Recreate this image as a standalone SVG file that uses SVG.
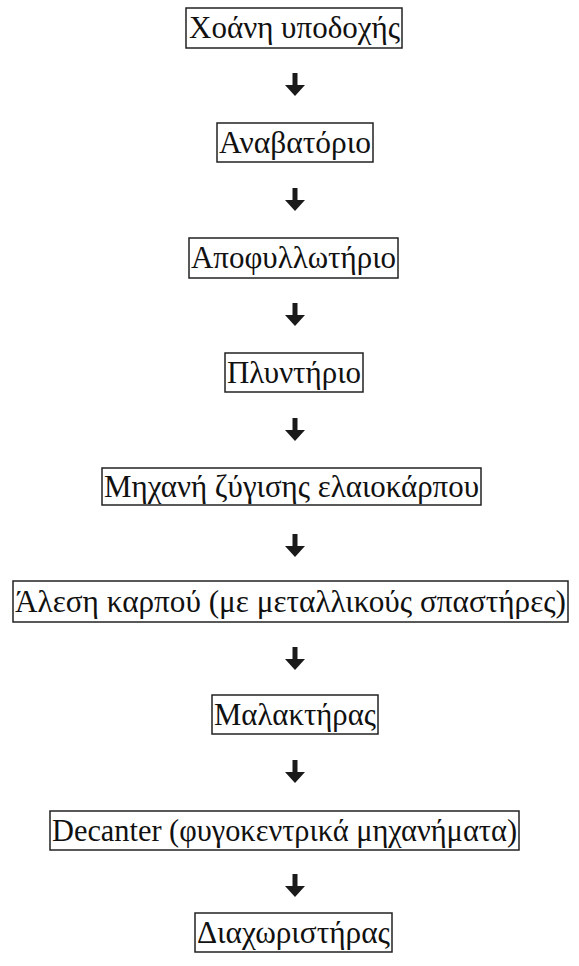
<svg xmlns="http://www.w3.org/2000/svg" width="579" height="966" viewBox="0 0 579 966">
<defs>
<style>
.box{fill:#fff;stroke:#222;stroke-width:1.5}
.t{font-family:"Liberation Serif","DejaVu Serif",serif;font-size:31px;fill:#111}
.arr{fill:#1a1a1a}
</style>
<path id="ar" d="M-2.5,0 H2.5 V12 H10 L0,23 L-10,12 H-2.5 Z"/>
</defs>
<rect width="579" height="966" fill="#fff"/>
<g id="connectors">
<use href="#ar" class="arr" x="295" y="73"/>
<use href="#ar" class="arr" x="295" y="188"/>
<use href="#ar" class="arr" x="295" y="303"/>
<use href="#ar" class="arr" x="295" y="418"/>
<use href="#ar" class="arr" x="295" y="534"/>
<use href="#ar" class="arr" x="295" y="647"/>
<use href="#ar" class="arr" x="295" y="760"/>
<use href="#ar" class="arr" x="295" y="874"/>
</g>
<g id="n1"><rect class="box" x="186" y="8" width="216" height="40"/><text class="t" x="189" y="38" textLength="211" lengthAdjust="spacingAndGlyphs">Χοάνη υποδοχής</text></g>
<g id="n2"><rect class="box" x="217" y="123" width="156" height="39"/><text class="t" x="219" y="153" textLength="152" lengthAdjust="spacingAndGlyphs">Αναβατόριο</text></g>
<g id="n3"><rect class="box" x="189" y="238" width="209" height="40"/><text class="t" x="191" y="268" textLength="205" lengthAdjust="spacingAndGlyphs">Αποφυλλωτήριο</text></g>
<g id="n4"><rect class="box" x="225" y="353" width="138" height="39"/><text class="t" x="227" y="383" textLength="134" lengthAdjust="spacingAndGlyphs">Πλυντήριο</text></g>
<g id="n5"><rect class="box" x="102" y="468" width="379" height="37"/><text class="t" x="104" y="497" textLength="375" lengthAdjust="spacingAndGlyphs">Μηχανή ζύγισης ελαιοκάρπου</text></g>
<g id="n6"><rect class="box" x="13" y="581" width="555" height="41"/><text class="t" x="15" y="612" textLength="551" lengthAdjust="spacingAndGlyphs">Άλεση καρπού (με μεταλλικούς σπαστήρες)</text></g>
<g id="n7"><rect class="box" x="212" y="695" width="166" height="39"/><text class="t" x="214" y="725" textLength="162" lengthAdjust="spacingAndGlyphs">Μαλακτήρας</text></g>
<g id="n8"><rect class="box" x="50" y="811" width="469" height="39"/><text class="t" x="52" y="841" textLength="465" lengthAdjust="spacingAndGlyphs">Decanter (φυγοκεντρικά μηχανήματα)</text></g>
<g id="n9"><rect class="box" x="195" y="913" width="197" height="39"/><text class="t" x="197" y="943" textLength="193" lengthAdjust="spacingAndGlyphs">Διαχωριστήρας</text></g>
</svg>
